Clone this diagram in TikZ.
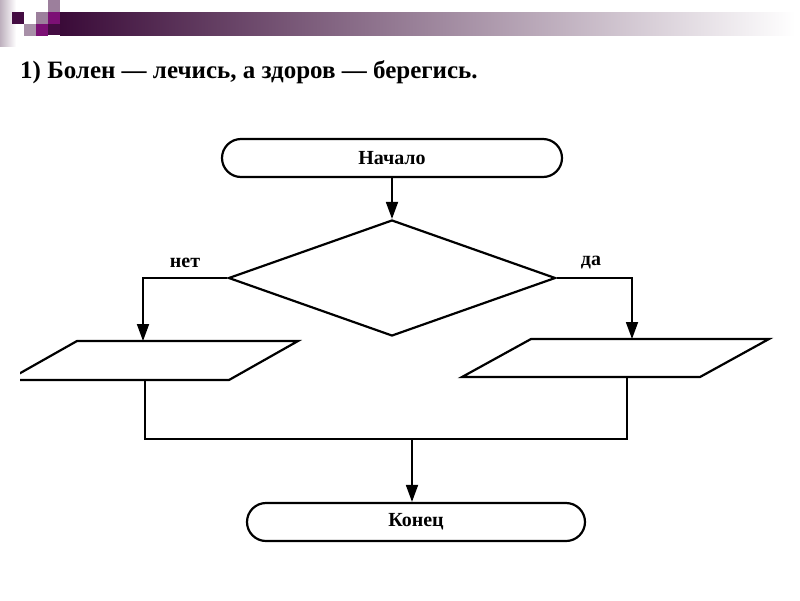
\documentclass[tikz,border=0pt]{standalone}
\usepackage{fontspec}
\setmainfont{Liberation Serif}
\usetikzlibrary{shapes.geometric,arrows.meta}
\definecolor{hdark}{RGB}{68,12,66}
\definecolor{hmag}{RGB}{124,16,117}
\definecolor{hmauve}{RGB}{156,127,156}
\definecolor{hlight}{RGB}{168,144,168}
\definecolor{hstrip}{RGB}{190,176,190}
\tikzset{
  shapeline/.style={draw=black, line width=2.2pt},
  conn/.style={draw=black, line width=1.8pt},
  arr/.style={conn, -{Triangle[length=17pt,width=12pt]}},
  term/.style={shapeline, rectangle, rounded corners=19pt, minimum height=38pt, inner sep=0pt,
               font=\fontsize{20}{24}\selectfont\bfseries},
  lbl/.style={font=\fontsize{20}{24}\selectfont\bfseries, inner sep=0pt}
}
\begin{document}
\begin{tikzpicture}[x=1pt,y=-1pt]
\useasboundingbox (0,0) rectangle (800,600);
\fill[white] (0,0) rectangle (800,600);
% header decoration
\shade[left color=hstrip, right color=white] (0,0) rectangle (16,46);
\shade[left color=hdark!85!black, right color=white] (60,12) rectangle (795,35);
\fill[hdark] (12,12) rectangle (24,24);
\fill[hmauve] (36,12) rectangle (48,24);
\fill[hmauve] (48,0) rectangle (60,12);
\fill[hmag] (48,12) rectangle (60,24);
\fill[hlight] (24,24) rectangle (36,36);
\fill[hmag] (36,24) rectangle (48,36);
\fill[hdark] (48,24) rectangle (60,35);
% title
\node[anchor=base west, inner sep=0pt, font=\fontsize{25}{30}\selectfont\bfseries] (title) at (20,78)
  {1) Болен — лечись, а здоров — берегись.};
% shapes
\node[term, minimum width=340pt] (start) at (392,158) {Начало};
\node[shapeline, diamond, minimum width=327pt, minimum height=116pt, inner sep=0pt] (dec) at (392,278) {};
\node[term, minimum width=338pt] (end) at (416,522) {Конец};
\begin{scope}
  \clip (20,300) rectangle (400,400);
  \draw[shapeline, line join=miter] (77,341) -- (298,341) -- (229,380) -- (8,380) -- cycle;
\end{scope}
\draw[shapeline, line join=miter] (531,339) -- (769,339) -- (700,377) -- (462,377) -- cycle;
\coordinate (inL) at (143,341);
\coordinate (inR) at (632,339);
\coordinate (outL) at (145,380);
\coordinate (outR) at (627,377);
\coordinate (join) at (412,439);
% connectors
\draw[arr] (start.south) -- (dec.north);
\draw[arr] (dec.west) -| (inL);
\draw[arr] (dec.east) -| (inR);
\draw[conn] (outL) |- (join) -| (outR);
\draw[arr] (join) -- (join |- end.north);
% labels
\node[lbl, anchor=base] (no) at (185,267) {нет};
\node[lbl, anchor=base] (yes) at (591,265) {да};
\end{tikzpicture}
\end{document}
